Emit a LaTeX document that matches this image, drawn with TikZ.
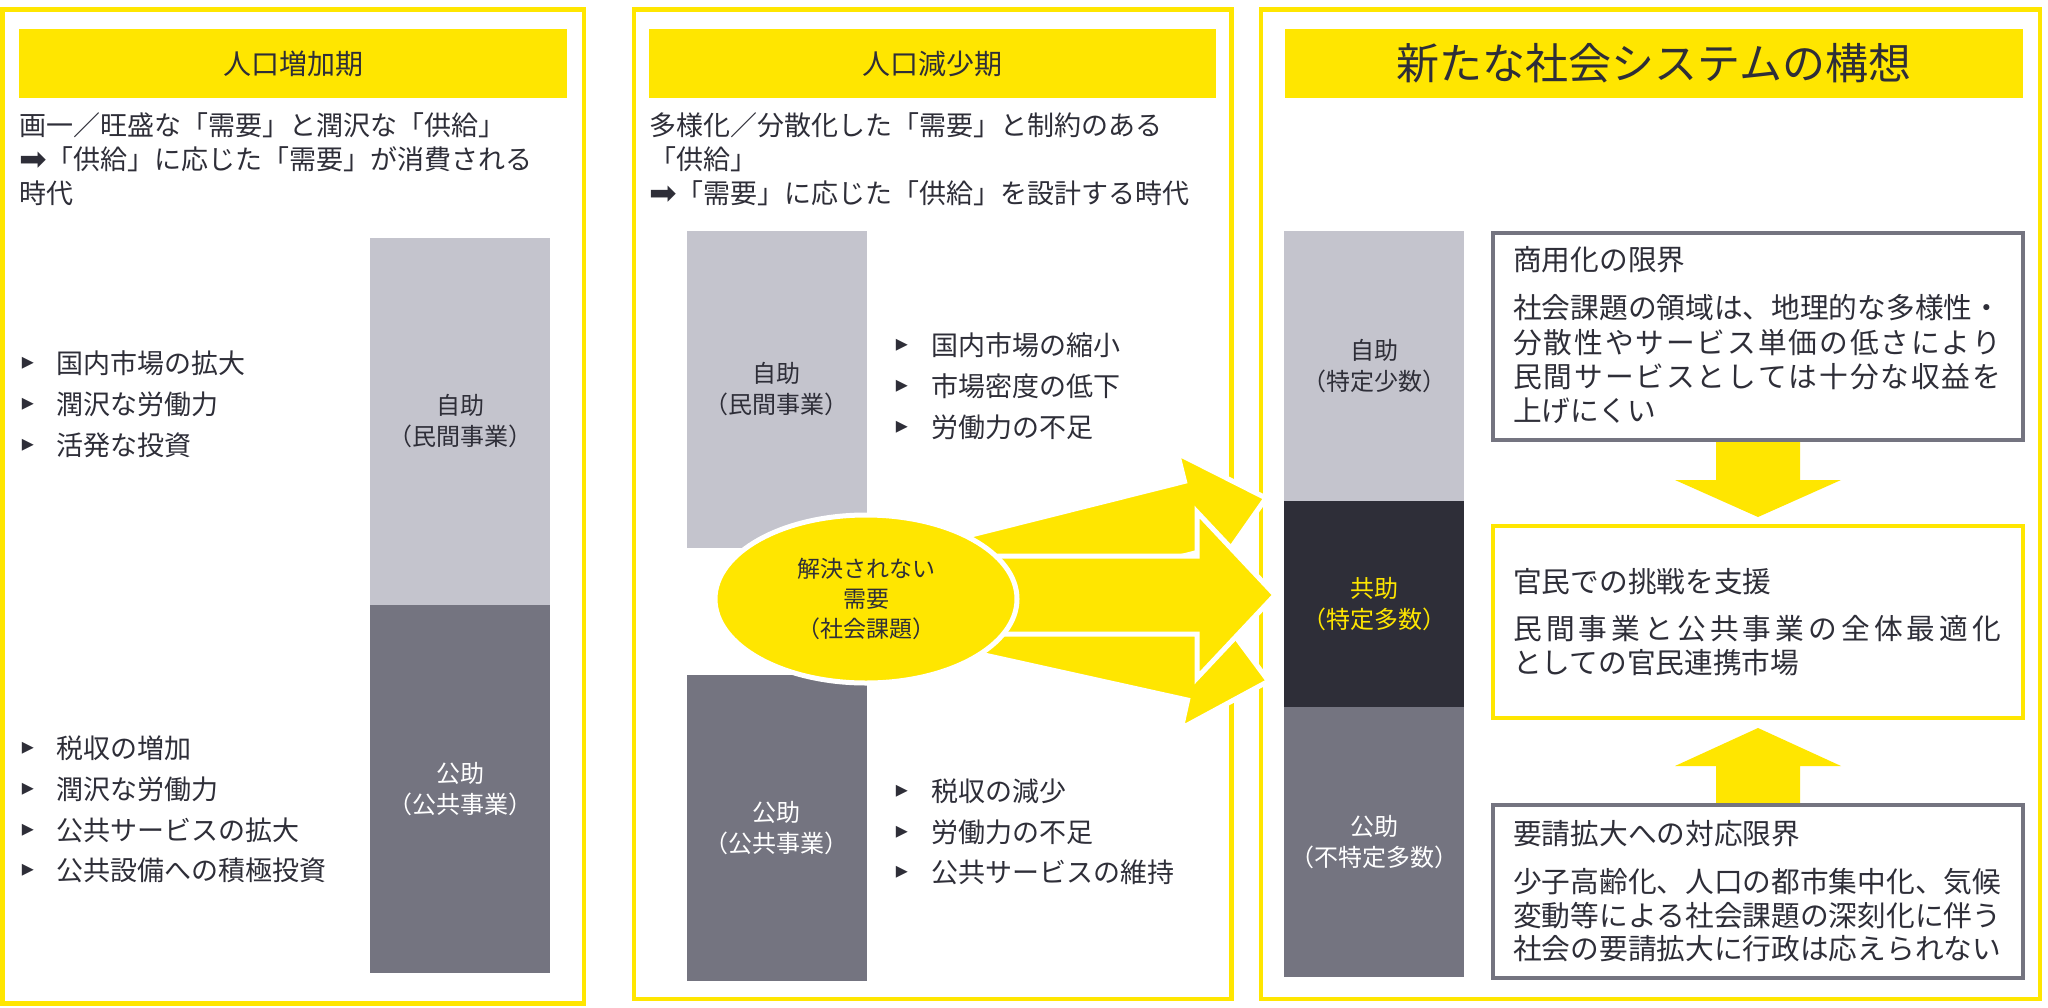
\documentclass[tikz,border=0pt]{standalone}
\usepackage{fontspec}
\setmainfont{Noto Sans CJK JP}
\newfontfamily\symf{DejaVu Sans}
\usetikzlibrary{shapes.geometric}
\definecolor{eyy}{HTML}{FFE600}
\definecolor{lgray}{HTML}{C4C4CD}
\definecolor{mgray}{HTML}{747480}
\definecolor{dgray}{HTML}{2E2E38}
\def\jsp#1{\ifx\relax#1\else #1\hfil\expandafter\jsp\fi}
\newcommand\jline[1]{\hbox to 488pt{\jsp#1\relax\unskip}}
\newcommand\harrow{\raisebox{-1.5pt}{\symf\fontsize{33}{33}\selectfont ➡}}
\begin{document}
\begin{tikzpicture}[x=1pt,y=-1pt,
  panel/.style={draw=eyy, line width=4.5pt},
  titlebar/.style={fill=eyy, inner sep=0pt, text=dgray, minimum height=69pt, font=\fontsize{28}{28}\selectfont},
  txt/.style={anchor=west, inner sep=0pt, text=dgray, font=\fontsize{27}{27}\selectfont},
  bulm/.style={inner sep=0pt, text=dgray, font=\symf\fontsize{24}{24}\selectfont},
  bar/.style={minimum width=180pt, inner sep=0pt, align=center, font=\fontsize{24}{31}\selectfont},
  rbox/.style={line width=4pt, minimum width=530pt, fill=white},
  boxtxt/.style={anchor=west, inner sep=0pt, text=dgray, font=\fontsize{28.7}{28.7}\selectfont},
  bigarrow/.style={fill=eyy, draw=white, line width=5pt, line join=miter},
]
\useasboundingbox (0,0) rectangle (2048,1007);
\fill[white] (0,0) rectangle (2048,1007);

% panels
\draw[panel] (2.5,9.5) rectangle (584,1003.5);
\draw[panel] (634,9.5) rectangle (1231.5,999);
\draw[panel] (1261,9.5) rectangle (2040,999);

% title bars
\node[titlebar, minimum width=548pt] (t1) at (293,63.5) {人口増加期};
\node[titlebar, minimum width=567pt] (t2) at (932.5,63.5) {人口減少期};
\node[titlebar, minimum width=738pt, font=\fontsize{43}{43}\selectfont] (t3) at (1654,63.5) {新たな社会システムの構想};

% headlines
\node[txt] (h1a) at (19,125) {画一／旺盛な「需要」と潤沢な「供給」};
\node[txt] (h1b) at (19,159) {\harrow「供給」に応じた「需要」が消費される};
\node[txt] (h1c) at (19,193) {時代};
\node[txt] (h2a) at (649,125) {多様化／分散化した「需要」と制約のある};
\node[txt] (h2b) at (649,159) {「供給」};
\node[txt] (h2c) at (649,193) {\harrow「需要」に応じた「供給」を設計する時代};

% bars panel 1
\node[bar, fill=lgray, text=dgray, minimum height=367pt] (p1a) at (460,421.5) {自助\\（民間事業）};
\node[bar, fill=mgray, text=white, minimum height=368pt] (p1b) at (460,789) {公助\\（公共事業）};
% bars panel 2
\node[bar, fill=lgray, text=dgray, minimum height=317pt] (p2a) at (776.5,389.5) {自助\\（民間事業）};
\node[bar, fill=mgray, text=white, minimum height=306pt] (p2b) at (776.5,828) {公助\\（公共事業）};
% bars panel 3
\node[bar, fill=lgray, text=dgray, minimum height=270pt] (p3a) at (1374,366) {自助\\（特定少数）};
\node[bar, fill=dgray, text=eyy, minimum height=206pt] (p3b) at (1374,604) {共助\\（特定多数）};
\node[bar, fill=mgray, text=white, minimum height=270pt] (p3c) at (1374,842) {公助\\（不特定多数）};

% bullets panel 1
\foreach \yy/\lbl [count=\i] in {363/国内市場の拡大, 404/潤沢な労働力, 445/活発な投資}{
  \node[bulm] (m1a\i) at (28,\yy) {▸};
  \node[txt] (l1a\i) at (56,\yy) {\lbl};
}
\foreach \yy/\lbl [count=\i] in {748/税収の増加, 789/潤沢な労働力, 830/公共サービスの拡大, 870/公共設備への積極投資}{
  \node[bulm] (m1b\i) at (28,\yy) {▸};
  \node[txt] (l1b\i) at (56,\yy) {\lbl};
}
% bullets panel 2
\foreach \yy/\lbl [count=\i] in {345/国内市場の縮小, 386/市場密度の低下, 427/労働力の不足}{
  \node[bulm] (m2a\i) at (902,\yy) {▸};
  \node[txt] (l2a\i) at (931,\yy) {\lbl};
}
\foreach \yy/\lbl [count=\i] in {791/税収の減少, 832/労働力の不足, 872/公共サービスの維持}{
  \node[bulm] (m2b\i) at (902,\yy) {▸};
  \node[txt] (l2b\i) at (931,\yy) {\lbl};
}

% big arrows
\begin{scope}[shift={(880,595)}, rotate=14.1]
  \filldraw[bigarrow] (0,-36) -- (323,-36) -- (323,-65) -- (398,0) -- (323,65) -- (323,36) -- (0,36) -- cycle;
\end{scope}
\begin{scope}[shift={(880,595)}, rotate=-12.5]
  \filldraw[bigarrow] (0,-36) -- (323,-36) -- (323,-65) -- (398,0) -- (323,65) -- (323,36) -- (0,36) -- cycle;
\end{scope}
\filldraw[bigarrow] (880,556) -- (1197,556) -- (1197,512) -- (1275,595) -- (1197,678) -- (1197,634) -- (880,634) -- cycle;

% ellipse
\node[ellipse, fill=eyy, draw=white, line width=5pt, minimum width=302pt, minimum height=168pt, inner sep=0pt, align=center, text=dgray, font=\fontsize{23}{30}\selectfont] (need) at (866,599) {解決されない\\需要\\（社会課題）};

% right boxes and arrows
\fill[eyy] (1716,441) -- (1800,441) -- (1800,480) -- (1841,480) -- (1758,517) -- (1675,480) -- (1716,480) -- cycle;
\fill[eyy] (1716,803) -- (1800,803) -- (1800,766) -- (1841,766) -- (1758,728) -- (1675,766) -- (1716,766) -- cycle;
\node[rbox, draw=mgray, minimum height=207pt] (r1) at (1758,336) {};
\node[rbox, draw=eyy, minimum height=192pt] (r2) at (1758,622) {};
\node[rbox, draw=mgray, minimum height=173pt] (r3) at (1758,891.5) {};

\node[boxtxt] (r1t) at (1513,260) {商用化の限界};
\node[boxtxt] (r1a) at (1513,308) {\jline{社会課題の領域は、地理的な多様性・}};
\node[boxtxt] (r1b) at (1513,343) {\jline{分散性やサービス単価の低さにより}};
\node[boxtxt] (r1c) at (1513,377) {\jline{民間サービスとしては十分な収益を}};
\node[boxtxt] (r1d) at (1513,411) {上げにくい};

\node[boxtxt] (r2t) at (1513,582) {官民での挑戦を支援};
\node[boxtxt] (r2a) at (1513,629) {\jline{民間事業と公共事業の全体最適化}};
\node[boxtxt] (r2b) at (1513,663) {としての官民連携市場};

\node[boxtxt] (r3t) at (1513,834) {要請拡大への対応限界};
\node[boxtxt] (r3a) at (1513,882) {\jline{少子高齢化、人口の都市集中化、気候}};
\node[boxtxt] (r3b) at (1513,915.5) {\jline{変動等による社会課題の深刻化に伴う}};
\node[boxtxt] (r3c) at (1513,949) {\jline{社会の要請拡大に行政は応えられない}};
\end{tikzpicture}
\end{document}
